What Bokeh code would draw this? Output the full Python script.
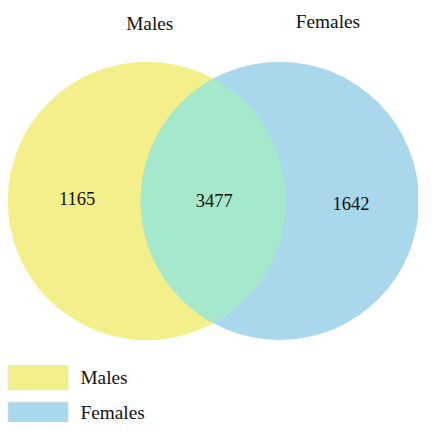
import numpy as np
from bokeh.plotting import figure
from bokeh.models import Range1d
from bokeh.core.properties import value
from bokeh.embed import file_html
from bokeh.resources import INLINE

# ---- data ----
set_names = ["Males", "Females"]
only_counts = [1165, 1642]
both_count = 3477
set_colors = ["#F3F08C", "#A9D7EC"]
overlap_color = "#A6E8CB"

# ---- layout (reference pixel coordinates, scaled to fit the window) ----
cx = [152.0, 290.0]
cy = 208.0
r = 144.5
FONT = value("Liberation Serif")

p = figure(width=418, height=422, output_backend="svg", toolbar_location=None,
           x_range=Range1d(0, 434), y_range=Range1d(438, 0),
           min_border=0, outline_line_color=None)
p.axis.visible = False
p.grid.visible = False
p.background_fill_color = "white"
p.border_fill_color = "white"

# circles
p.circle(x=cx, y=[cy, cy], radius=r, fill_color=set_colors, line_color=None)

# overlap lens computed from the two circles
d = cx[1] - cx[0]
theta = np.arccos((d / 2) / r)
t1 = np.linspace(-theta, theta, 200)
t2 = np.linspace(np.pi - theta, np.pi + theta, 200)
lx = np.concatenate([cx[0] + r * np.cos(t1), cx[1] + r * np.cos(t2)])
ly = np.concatenate([cy + r * np.sin(t1), cy + r * np.sin(t2)])
p.patch(lx, ly, fill_color=overlap_color, line_color=None)

# counts
p.text(x=[79.5, 222, 364], y=[206, 208, 211],
       text=[str(only_counts[0]), str(both_count), str(only_counts[1])],
       text_font=FONT, text_font_size="18.5px", text_color="#111111",
       text_align="center", text_baseline="middle")

# set titles
p.text(x=[155, 340], y=[24, 22], text=set_names,
       text_font=FONT, text_font_size="19.3px", text_color="#111111",
       text_align="center", text_baseline="middle")

# legend
p.quad(left=[8, 8], right=[70, 70], top=[379, 417], bottom=[404, 442],
       fill_color=set_colors, line_color=["#DCEDB8", "#C8D8DE"], line_width=1)
p.text(x=[83, 83], y=[391, 428], text=set_names,
       text_font=FONT, text_font_size="19.3px", text_color="#111111",
       text_align="left", text_baseline="middle")

open("out.html", "w").write(file_html(p, INLINE))
